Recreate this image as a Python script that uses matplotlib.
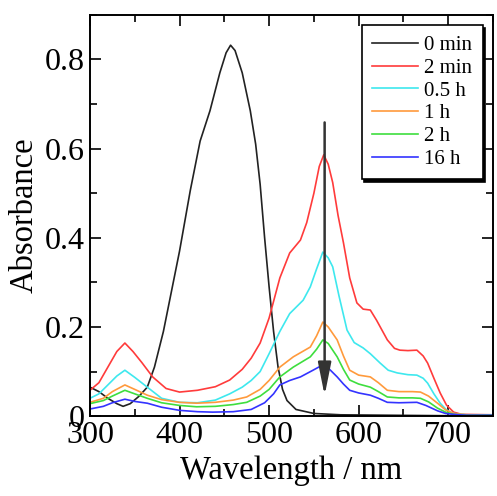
import matplotlib.pyplot as plt
from matplotlib.ticker import MultipleLocator

plt.rcParams['font.family'] = ['Liberation Serif', 'DejaVu Serif']

# 0 min
wl_0 = [300, 310, 320, 330, 337, 345, 355, 364, 372, 382, 390, 400, 412, 423, 434, 445,
        452, 457, 462, 470, 479, 485, 490, 495, 500, 505, 510, 515, 520, 530, 550, 580, 750]
abs_0 = [0.065, 0.055, 0.04, 0.028, 0.022, 0.028, 0.045, 0.065, 0.11, 0.19, 0.27, 0.37,
         0.506, 0.617, 0.685, 0.77, 0.815, 0.832, 0.82, 0.77, 0.685, 0.61, 0.52, 0.40,
         0.29, 0.19, 0.11, 0.06, 0.035, 0.015, 0.006, 0.003, 0.0]

# 2 min
wl_2m = [300, 310, 320, 330, 339, 348, 358, 370, 385, 400, 420, 440, 456, 470, 480, 490,
         500, 512, 523, 535, 542, 550, 556, 561, 566, 571, 577, 583, 590, 598, 605, 613,
         620, 632, 640, 646, 655, 665, 672, 677, 684, 691, 698, 706, 715, 750]
abs_2m = [0.058, 0.075, 0.11, 0.145, 0.164, 0.145, 0.12, 0.088, 0.062, 0.054, 0.058,
          0.066, 0.081, 0.105, 0.13, 0.164, 0.22, 0.31, 0.366, 0.395, 0.434, 0.5, 0.56,
          0.586, 0.565, 0.524, 0.45, 0.389, 0.31, 0.254, 0.24, 0.238, 0.215, 0.171,
          0.152, 0.148, 0.147, 0.148, 0.135, 0.119, 0.085, 0.052, 0.025, 0.009, 0.004, 0.003]

# 0.5 h
wl_05h = [300, 310, 320, 330, 339, 350, 364, 380, 400, 420, 440, 456, 470, 480, 490, 500,
          512, 523, 538, 546, 553, 560, 566, 571, 578, 587, 595, 605, 613, 624, 633, 643,
          655, 665, 672, 677, 684, 691, 698, 706, 720, 750]
abs_05h = [0.04, 0.05, 0.07, 0.09, 0.103, 0.087, 0.065, 0.04, 0.031, 0.03, 0.036, 0.05,
           0.065, 0.08, 0.10, 0.14, 0.19, 0.23, 0.26, 0.29, 0.33, 0.368, 0.355, 0.335,
           0.27, 0.193, 0.165, 0.153, 0.14, 0.119, 0.103, 0.097, 0.093, 0.092, 0.085,
           0.074, 0.05, 0.029, 0.014, 0.006, 0.003, 0.003]

# 1 h
wl_1h = [300, 315, 325, 339, 350, 364, 380, 400, 419, 440, 460, 475, 490, 500, 512, 527,
         546, 553, 560, 566, 576, 583, 590, 600, 613, 622, 632, 645, 660, 669, 678, 688,
         697, 706, 720, 750]
abs_1h = [0.031, 0.04, 0.055, 0.07, 0.06, 0.047, 0.037, 0.031, 0.029, 0.031, 0.036,
          0.043, 0.06, 0.08, 0.11, 0.133, 0.155, 0.18, 0.211, 0.2, 0.171, 0.135, 0.103,
          0.092, 0.088, 0.075, 0.058, 0.055, 0.055, 0.054, 0.045, 0.029, 0.014, 0.006,
          0.003, 0.002]

# 2 h
wl_2h = wl_1h
abs_2h = [0.028, 0.035, 0.045, 0.058, 0.05, 0.04, 0.03, 0.024, 0.021, 0.022, 0.026,
          0.031, 0.045, 0.06, 0.088, 0.11, 0.133, 0.15, 0.171, 0.163, 0.133, 0.105,
          0.081, 0.072, 0.065, 0.055, 0.043, 0.041, 0.041, 0.04, 0.032, 0.018, 0.009,
          0.004, 0.002, 0.002]

# 16 h
wl_16h = [300, 315, 325, 339, 350, 364, 380, 400, 420, 437, 460, 480, 495, 505, 512, 523,
          535, 549, 560, 566, 576, 583, 590, 600, 613, 622, 632, 645, 665, 675, 688, 697,
          706, 720, 750]
abs_16h = [0.016, 0.022, 0.03, 0.038, 0.033, 0.029, 0.02, 0.013, 0.01, 0.009, 0.01,
           0.015, 0.03, 0.05, 0.07, 0.08, 0.088, 0.103, 0.115, 0.108, 0.088, 0.072,
           0.058, 0.052, 0.047, 0.04, 0.031, 0.03, 0.031, 0.024, 0.012, 0.006, 0.004,
           0.002, 0.002]

labels = ['0 min', '2 min', '0.5 h', '1 h', '2 h', '16 h']
colors = ['#222222', '#ff3b3b', '#3ee8ee', '#ff9a3c', '#3ede3e', '#3333ff']
series = [(wl_0, abs_0), (wl_2m, abs_2m), (wl_05h, abs_05h),
          (wl_1h, abs_1h), (wl_2h, abs_2h), (wl_16h, abs_16h)]

fig = plt.figure(figsize=(4.97, 4.96), dpi=100)
ax = fig.add_axes([0.181, 0.161, 0.811, 0.809])

for (wl, a), lab, c in zip(series, labels, colors):
    ax.plot(wl, a, color=c, lw=1.2, label=lab)

ax.annotate('', xy=(562, 0.04), xytext=(562, 0.665),
            arrowprops=dict(arrowstyle='-|>,head_length=1.1,head_width=0.22',
                            color='#333333', lw=1.8, mutation_scale=18))

ax.set_xlim(300, 750)
ax.set_ylim(0, 0.9)
ax.xaxis.set_major_locator(MultipleLocator(100))
ax.xaxis.set_minor_locator(MultipleLocator(50))
ax.yaxis.set_major_locator(MultipleLocator(0.2))
ax.yaxis.set_minor_locator(MultipleLocator(0.1))
ax.set_yticks([0, 0.2, 0.4, 0.6, 0.8])
ax.set_yticklabels(['0', '0.2', '0.4', '0.6', '0.8'])
ax.tick_params(which='both', direction='in', top=True, right=True, labelsize=23, width=1.2)
ax.tick_params(which='major', length=8)
ax.tick_params(which='minor', length=5)
for s in ax.spines.values():
    s.set_linewidth(1.4)

ax.set_xlabel('Wavelength / nm', fontsize=23.5)
ax.set_ylabel('Absorbance', fontsize=23.5)

leg = ax.legend(loc='upper right', fontsize=15, frameon=True, fancybox=False,
                edgecolor='black', shadow={'color': 'black', 'alpha': 1},
                handlelength=2.2, handletextpad=0.3, labelspacing=0.15,
                borderaxespad=0.5, borderpad=0.5)
leg.get_frame().set_linewidth(1.2)

fig.savefig('out.png', dpi=100)
